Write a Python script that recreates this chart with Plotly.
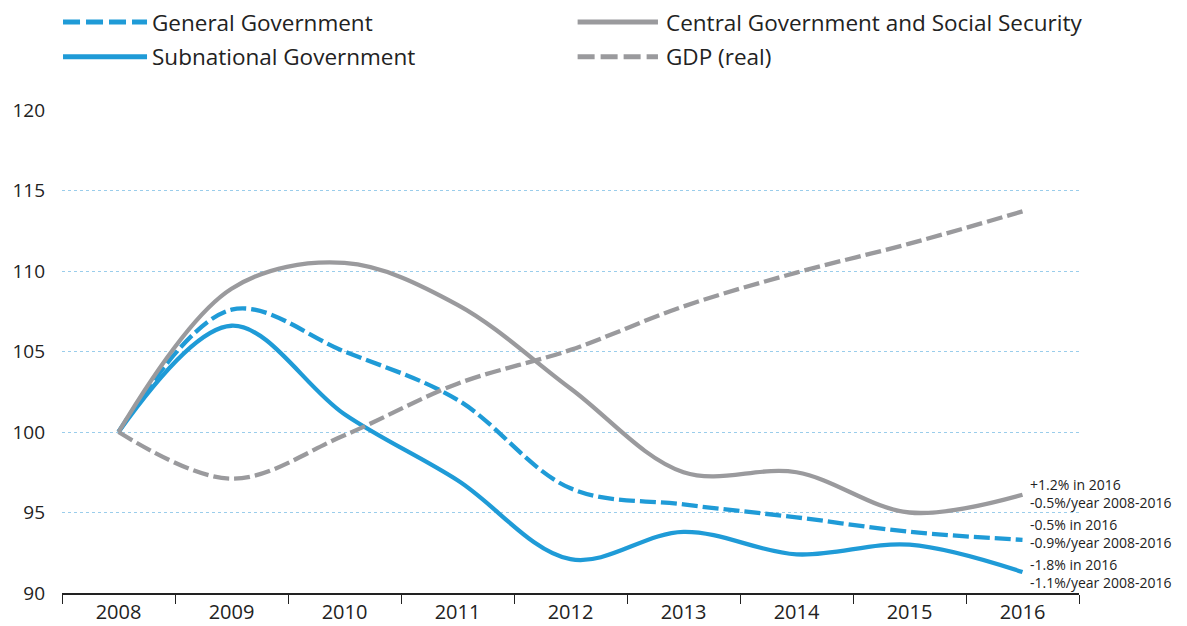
import plotly.graph_objects as go

years = ["2008", "2009", "2010", "2011", "2012", "2013", "2014", "2015", "2016"]
general_gov = [100, 107.6, 105.0, 102.0, 96.5, 95.5, 94.7, 93.8, 93.3]
subnational_gov = [100, 106.6, 101.1, 97.0, 92.1, 93.8, 92.4, 93.0, 91.3]
central_gov = [100, 108.9, 110.5, 107.9, 102.7, 97.5, 97.5, 95.0, 96.1]
gdp_real = [100, 97.1, 99.8, 103.0, 105.1, 107.8, 109.9, 111.7, 113.7]

y_ticks = [90, 95, 100, 105, 110, 115, 120]

notes = [
    "+1.2% in 2016<br>-0.5%/year 2008-2016",
    "-0.5% in 2016<br>-0.9%/year 2008-2016",
    "-1.8% in 2016<br>-1.1%/year 2008-2016",
]
# vertical placement of each note (y-axis units)
note_pos = [96.15, 93.68, 91.22]

BLUE = "#1F9BD7"
GRAY = "#9A9A9D"
TEXT = "#222222"
FONT = "Open Sans"

fig = go.Figure()
series = [
    ("General Government", general_gov, BLUE, "16px,5px"),
    ("Subnational Government", subnational_gov, BLUE, "solid"),
    ("Central Government and Social Security", central_gov, GRAY, "solid"),
    ("GDP (real)", gdp_real, GRAY, "16px,5px"),
]
for name, vals, col, dash in series:
    fig.add_trace(go.Scatter(
        x=years, y=vals, name=name, mode="lines",
        line=dict(color=col, width=4.3, dash=dash, shape="spline", smoothing=1.0),
        showlegend=False, hoverinfo="x+y+name",
    ))

# manual legend (2 columns), paper coords: x=(px-62)/1017, y=(593-py)/483
legend_items = [
    ("General Government", BLUE, "17px,6px", 0.001, 0.0836, 0.087, 1.182),
    ("Subnational Government", BLUE, "solid", 0.001, 0.0836, 0.087, 1.110),
    ("Central Government and Social Security", GRAY, "solid", 0.507, 0.586, 0.592, 1.182),
    ("GDP (real)", GRAY, "17px,6px", 0.507, 0.586, 0.592, 1.110),
]
shapes = []
annotations = []
for name, col, dash, x0, x1, xt, yy in legend_items:
    shapes.append(dict(type="line", xref="paper", yref="paper", x0=x0, x1=x1, y0=yy, y1=yy,
                       line=dict(color=col, width=5, dash=dash)))
    annotations.append(dict(xref="paper", yref="paper", x=xt, y=yy, text=name, showarrow=False,
                            xanchor="left", yanchor="middle",
                            font=dict(family=FONT, size=22.5, color=TEXT)))

for txt, yv in zip(notes, note_pos):
    annotations.append(dict(xref="paper", yref="y", x=0.950, y=yv, text=txt, showarrow=False,
                            xanchor="left", yanchor="middle", align="left",
                            font=dict(family=FONT, size=14, color=TEXT)))

fig.update_layout(
    width=1187, height=626,
    margin=dict(l=62, r=108, t=110, b=33),
    paper_bgcolor="white", plot_bgcolor="white",
    font=dict(family=FONT, color=TEXT),
    shapes=shapes, annotations=annotations,
    showlegend=False,
)
fig.update_xaxes(
    type="category", range=[-0.5, 8.5], automargin=False,
    showline=True, linecolor="#222222", linewidth=2,
    ticks="outside", tickson="boundaries", ticklen=9, tickcolor="#222222", tickwidth=1,
    showgrid=False, tickfont=dict(family=FONT, size=20, color=TEXT),
)
fig.update_yaxes(
    range=[90, 120], tickvals=y_ticks, ticktext=[str(v) for v in y_ticks],
    automargin=False,
    showgrid=True, gridcolor="#9ACDEB", gridwidth=1, griddash="dot",
    zeroline=False, showline=False, ticks="",
    ticklabelstandoff=16,
    tickfont=dict(family=FONT, size=19, color=TEXT),
)

css_fix = (
    "var s=document.createElement('style');"
    "s.textContent='html,body{margin:0;padding:0;width:1187px;height:626px;overflow:hidden;}';"
    "document.head.appendChild(s);"
)
fig.write_html("out.html", config={"displayModeBar": False}, post_script=css_fix)
